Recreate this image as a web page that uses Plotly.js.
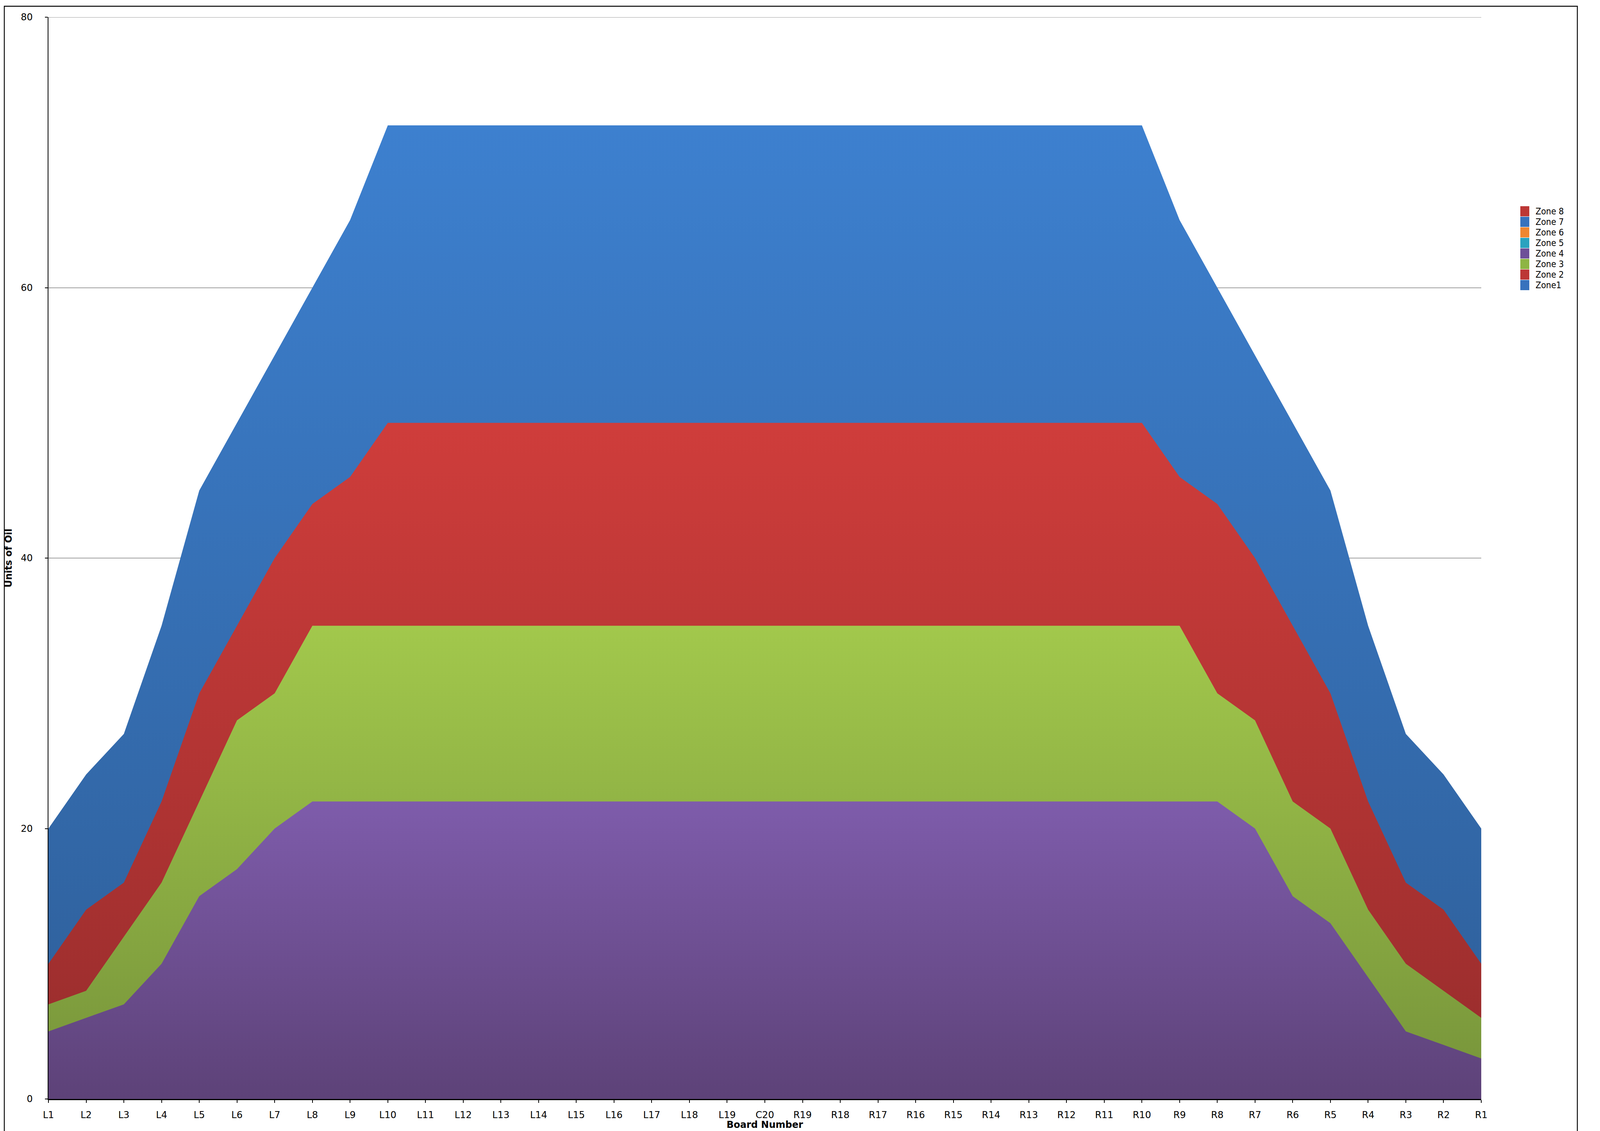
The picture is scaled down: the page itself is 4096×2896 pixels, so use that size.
<!DOCTYPE html>
<html>
<head>
<meta charset="utf-8">
<script src="https://cdn.plot.ly/plotly-3.0.1.min.js"></script>
<style>
html, body { margin: 0; padding: 0; background: #ffffff; }
#chart { width: 4096px; height: 2896px; }
</style>
</head>
<body>
<div id="chart"></div>
<script>
// ---------------- data ----------------
const boards = ['L1','L2','L3','L4','L5','L6','L7','L8','L9','L10','L11','L12','L13','L14','L15','L16','L17','L18','L19','C20',
                'R19','R18','R17','R16','R15','R14','R13','R12','R11','R10','R9','R8','R7','R6','R5','R4','R3','R2','R1'];

const zone1 = [20,24,27,35,45,50,55,60,65,72,72,72,72,72,72,72,72,72,72,72,72,72,72,72,72,72,72,72,72,72,65,60,55,50,45,35,27,24,20];
const zone2 = [10,14,16,22,30,35,40,44,46,50,50,50,50,50,50,50,50,50,50,50,50,50,50,50,50,50,50,50,50,50,46,44,40,35,30,22,16,14,10];
const zone3 = [7,8,12,16,22,28,30,35,35,35,35,35,35,35,35,35,35,35,35,35,35,35,35,35,35,35,35,35,35,35,35,30,28,22,20,14,10,8,6];
const zone4 = [5,6,7,10,15,17,20,22,22,22,22,22,22,22,22,22,22,22,22,22,22,22,22,22,22,22,22,22,22,22,22,22,20,15,13,9,5,4,3];

const zoneNames = ['Zone1','Zone 2','Zone 3','Zone 4','Zone 5','Zone 6','Zone 7','Zone 8'];
const zoneSeries = [zone1, zone2, zone3, zone4];

const yTicks = [0, 20, 40, 60, 80];
const xTitle = 'Board Number';
const yTitle = 'Units of Oil';

// ---------------- styles ----------------
const gradTop    = ['#3D80CF', '#CF3D3B', '#A2C84C', '#7E5CAB'];
const gradBottom = ['#2E5E98', '#962C2C', '#76933A', '#5D4278'];
const swatchColors = ['#3772BD', '#BC3735', '#8EB543', '#6E4F98', '#2AA2BF', '#EE8630', '#3772BD', '#BC3735'];

const W = 4096, H = 2896;
const M = { l: 124, r: 304, t: 44, b: 82 };
const PW = W - M.l - M.r, PH = H - M.t - M.b;
const px = x => (x - M.l) / PW;
const py = y => (H - M.b - y) / PH;

const traces = zoneSeries.map((vals, i) => ({
  type: 'scatter',
  mode: 'none',
  x: boards,
  y: vals,
  name: zoneNames[i],
  fill: 'tozeroy',
  fillgradient: {
    type: 'vertical',
    colorscale: [[0, gradBottom[i]], [1, gradTop[i]]],
    start: 0,
    stop: Math.max(...vals)
  },
  line: { width: 0, shape: 'linear' },
  showlegend: false,
  hoverinfo: 'x+y+name'
}));

// ---------------- legend (drawn from zoneNames / swatchColors) ----------------
const shapes = [];
const annotations = [];
const legendOrder = zoneNames.slice().reverse();
const legendColors = swatchColors.slice().reverse();
legendOrder.forEach((nm, i) => {
  const cy = 541 + i * 27;
  shapes.push({
    type: 'rect', xref: 'paper', yref: 'paper',
    x0: px(3892), x1: px(3915), y0: py(cy + 13), y1: py(cy - 13),
    fillcolor: legendColors[i], line: { width: 0 }
  });
  annotations.push({
    xref: 'paper', yref: 'paper', x: px(3929), y: py(cy),
    xanchor: 'left', yanchor: 'middle', showarrow: false,
    text: nm,
    font: { family: 'DejaVu Sans Condensed, DejaVu Sans, sans-serif', size: 23, color: '#000000' }
  });
});

const tickFont = { family: 'DejaVu Sans, Verdana, sans-serif', size: 24, color: '#000000' };
const titleFont = { family: 'DejaVu Sans, Verdana, sans-serif', size: 24, color: '#000000', weight: 'bold' };

// x-axis title, at the bottom edge
annotations.push({
  xref: 'paper', yref: 'paper', x: 0.5, y: py(2895),
  xanchor: 'center', yanchor: 'bottom', showarrow: false, borderpad: 0,
  text: xTitle, font: titleFont
});

// top gridline (at the upper end of the value axis)
shapes.push({
  type: 'line', xref: 'paper', yref: 'y',
  x0: 0, x1: 1, y0: yTicks[yTicks.length - 1], y1: yTicks[yTicks.length - 1],
  line: { color: '#A0A0A0', width: 2 }, layer: 'below'
});

// outer frame
shapes.push({
  type: 'rect', xref: 'paper', yref: 'paper',
  x0: px(11), x1: px(4038), y0: py(2920), y1: py(16),
  line: { color: '#000000', width: 2.3 }, fillcolor: 'rgba(0,0,0,0)', layer: 'below'
});

const layout = {
  width: W, height: H,
  margin: M,
  paper_bgcolor: '#ffffff',
  plot_bgcolor: '#ffffff',
  showlegend: false,
  xaxis: {
    type: 'category',
    range: [0, boards.length - 1],
    showline: true, linecolor: '#000000', linewidth: 2.5,
    ticks: 'outside', ticklen: 7, tickwidth: 2, tickcolor: '#000000',
    showgrid: false, zeroline: false,
    tickfont: tickFont,
    ticklabelstandoff: 11,
    tickangle: 0,
    automargin: false
  },
  yaxis: {
    range: [0, 80],
    tickvals: yTicks,
    ticktext: yTicks.map(String),
    showline: true, linecolor: '#000000', linewidth: 2.5,
    ticks: 'outside', ticklen: 7, tickwidth: 2, tickcolor: '#000000',
    showgrid: true, gridcolor: '#A0A0A0', gridwidth: 2,
    zeroline: false,
    tickfont: tickFont,
    ticklabelstandoff: 26,
    automargin: false,
    title: { text: yTitle, font: titleFont, standoff: 16 }
  },
  shapes: shapes,
  annotations: annotations
};

Plotly.newPlot('chart', traces, layout, { staticPlot: true, displayModeBar: false });
</script>
</body>
</html>
